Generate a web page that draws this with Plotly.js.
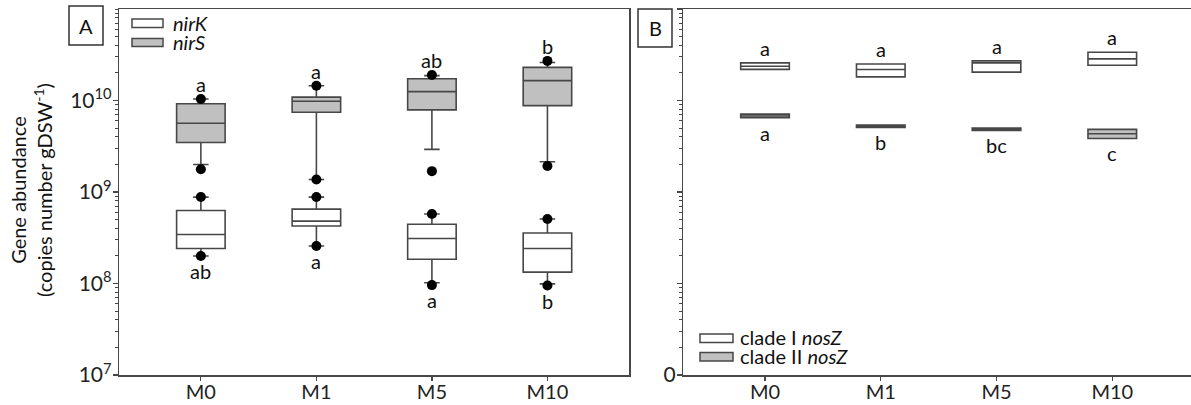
<!DOCTYPE html>
<html>
<head>
<meta charset="utf-8">
<script src="https://cdn.plot.ly/plotly-3.0.1.min.js"></script>
<style>
html,body{margin:0;padding:0;overflow:hidden;background:#fff;}
#chart{width:1195px;height:405px;}
</style>
</head>
<body>
<div id="chart"></div>
<script>
// ---------- DATA ----------
const categories = ['M0', 'M1', 'M5', 'M10'];

// Panel A: nirK
const nirK_q1     = [2.41e8, 4.25e8, 1.84e8, 1.33e8];
const nirK_median = [3.43e8, 4.80e8, 3.10e8, 2.41e8];
const nirK_q3     = [6.27e8, 6.50e8, 4.44e8, 3.56e8];
const nirK_lower  = [2.00e8, 2.57e8, 1.02e8, 9.9e7];
const nirK_upper  = [8.80e8, 8.80e8, 5.75e8, 5.07e8];
const nirK_dotLow  = [2.00e8, 2.57e8, 9.6e7, 9.5e7];
const nirK_dotHigh = [8.80e8, 8.80e8, 5.75e8, 5.07e8];

// Panel A: nirS
const nirS_q1     = [3.48e9, 7.45e9, 7.90e9, 8.80e9];
const nirS_median = [5.65e9, 9.80e9, 1.25e10, 1.65e10];
const nirS_q3     = [9.20e9, 1.09e10, 1.73e10, 2.30e10];
const nirS_lower  = [2.00e9, 1.37e9, 2.92e9, 2.14e9];
const nirS_upper  = [1.04e10, 1.45e10, 1.87e10, 2.60e10];
const nirS_dotLow  = [1.77e9, 1.37e9, 1.69e9, 1.92e9];
const nirS_dotHigh = [1.04e10, 1.45e10, 1.90e10, 2.71e10];

// Panel B: clade I nosZ
const cladeI_q1     = [2.19e10, 1.81e10, 2.04e10, 2.43e10];
const cladeI_median = [2.37e10, 2.18e10, 2.58e10, 2.85e10];
const cladeI_q3     = [2.58e10, 2.51e10, 2.71e10, 3.37e10];

// Panel B: clade II nosZ
const cladeII_q1     = [6.48e9, 5.08e9, 4.71e9, 3.85e9];
const cladeII_median = [6.78e9, 5.25e9, 4.87e9, 4.33e9];
const cladeII_q3     = [7.10e9, 5.38e9, 4.99e9, 4.83e9];

// Significance letters
const letters_nirS    = ['a', 'a', 'ab', 'b'];
const letters_nirK    = ['ab', 'a', 'a', 'b'];
const letters_cladeI  = ['a', 'a', 'a', 'a'];
const letters_cladeII = ['a', 'b', 'bc', 'c'];

// Tick labels
const tickValsA = [1e7, 1e8, 1e9, 1e10];
const tickTextA = ['10<sup>7</sup>', '10<sup>8</sup>', '10<sup>9</sup>', '10<sup>10</sup>'];
const tickValsB = [1e7, 1e8, 1e9, 1e10, 1e11];
const tickTextB = ['0', '', '', '', ''];

// ---------- STYLE ----------
const W = 1195, H = 405;
const FONT = 'Lato, "Open Sans", sans-serif';
const LINE = '#474747';
const GRAY = '#c0c0c0';
const px = v => v / W;
const py = v => (H - v) / H;

function boxTrace(q1, med, q3, lo, hi, fill, xa, ya, lw) {
  return {
    type: 'box', x: categories, q1: q1, median: med, q3: q3,
    lowerfence: lo, upperfence: hi,
    boxpoints: false, fillcolor: fill,
    line: {color: LINE, width: lw || 1.6},
    whiskerwidth: 0.32, xaxis: xa, yaxis: ya, showlegend: false,
    hoverinfo: 'skip'
  };
}
function dotTrace(vals) {
  return {
    type: 'scatter', mode: 'markers', x: categories, y: vals,
    marker: {color: '#000', size: 10}, xaxis: 'x', yaxis: 'y',
    showlegend: false, hoverinfo: 'skip'
  };
}

const traces = [
  boxTrace(nirS_q1, nirS_median, nirS_q3, nirS_lower, nirS_upper, GRAY, 'x', 'y'),
  boxTrace(nirK_q1, nirK_median, nirK_q3, nirK_lower, nirK_upper, '#ffffff', 'x', 'y'),
  dotTrace(nirS_dotHigh), dotTrace(nirS_dotLow),
  dotTrace(nirK_dotHigh), dotTrace(nirK_dotLow),
  boxTrace(cladeI_q1, cladeI_median, cladeI_q3, cladeI_q1, cladeI_q3, '#ffffff', 'x2', 'y2'),
  boxTrace(cladeII_q1, cladeII_median, cladeII_q3, cladeII_q1, cladeII_q3, GRAY, 'x2', 'y2')
];

const annotations = [];
function letterSet(letters, vals, xref, yref, shift) {
  letters.forEach((t, i) => {
    annotations.push({
      text: t, x: categories[i], y: Math.log10(vals[i]), xref: xref, yref: yref,
      yshift: shift, showarrow: false, xanchor: 'center', yanchor: 'middle',
      font: {family: FONT, size: 20, color: '#111'}
    });
  });
}
letterSet(letters_nirS, nirS_dotHigh, 'x', 'y', 15);
letterSet(letters_nirK, nirK_dotLow, 'x', 'y', -15);
letterSet(letters_cladeI, cladeI_q3, 'x2', 'y2', 15);
letterSet(letters_cladeII, cladeII_q1, 'x2', 'y2', -15);

function paperText(text, x, y, size, xanchor, angle) {
  annotations.push({text: text, x: px(x), y: py(y), xref: 'paper', yref: 'paper',
    xanchor: xanchor || 'center', yanchor: 'middle', textangle: angle || 0,
    showarrow: false, font: {family: FONT, size: size, color: '#111'}});
}
// panel letters
paperText('A', 86, 26, 20);
paperText('B', 655, 28, 20);
// y title
paperText('Gene abundance<br>(copies number gDSW<sup>-1</sup>)', 31, 190, 20, 'center', -90);
// legend texts
paperText('<i>nirK</i>', 171, 23, 20, 'left');
paperText('<i>nirS</i>', 171, 42, 20, 'left');
paperText('clade I <i>nosZ</i>', 738, 337, 20, 'left');
paperText('clade II <i>nosZ</i>', 738, 356, 20, 'left');

const shapes = [
  {type: 'rect', xref: 'paper', yref: 'paper', x0: px(69), x1: px(103), y0: py(6), y1: py(45),
   line: {color: '#333', width: 1.5}, fillcolor: 'rgba(0,0,0,0)'},
  {type: 'rect', xref: 'paper', yref: 'paper', x0: px(638), x1: px(672), y0: py(9), y1: py(47),
   line: {color: '#333', width: 1.5}, fillcolor: 'rgba(0,0,0,0)'},
  {type: 'rect', xref: 'paper', yref: 'paper', x0: px(132), x1: px(163), y0: py(19), y1: py(27.5),
   line: {color: LINE, width: 1.5}, fillcolor: '#ffffff'},
  {type: 'rect', xref: 'paper', yref: 'paper', x0: px(132), x1: px(163), y0: py(38.5), y1: py(46.5),
   line: {color: LINE, width: 1.5}, fillcolor: GRAY},
  {type: 'rect', xref: 'paper', yref: 'paper', x0: px(700), x1: px(733), y0: py(334), y1: py(342.5),
   line: {color: LINE, width: 1.5}, fillcolor: '#ffffff'},
  {type: 'rect', xref: 'paper', yref: 'paper', x0: px(700), x1: px(733), y0: py(352.5), y1: py(361),
   line: {color: LINE, width: 1.5}, fillcolor: GRAY}
];

const yDom = [py(375), py(9)];
const xCommon = {
  type: 'category', range: [-0.706, 3.706], showline: true, linecolor: LINE, linewidth: 1.5,
  ticks: 'outside', ticklen: 4, tickcolor: LINE, tickwidth: 1.2, showgrid: false, zeroline: false,
  ticklabelstandoff: -6,
  tickfont: {family: FONT, size: 20, color: '#222'}, fixedrange: true
};
const yCommon = {
  type: 'log', range: [7, 11], domain: yDom, showline: true, linecolor: LINE, linewidth: 1.5,
  ticks: 'outside', ticklen: 5, tickcolor: LINE, tickwidth: 1.2, showgrid: false, zeroline: false,
  ticklabelstandoff: -3,
  tickmode: 'array', tickfont: {family: FONT, size: 21, color: '#222'},
  minor: {ticks: 'outside', ticklen: 3, tickcolor: LINE, tickwidth: 1, dtick: 'D1', showgrid: false},
  fixedrange: true
};

const layout = {
  width: W, height: H,
  margin: {l: 0, r: 0, t: 0, b: 0},
  paper_bgcolor: '#fff', plot_bgcolor: '#fff',
  boxmode: 'overlay', boxgap: 0.4,
  showlegend: false,
  xaxis: Object.assign({}, xCommon, {domain: [px(119.3), px(629)], anchor: 'y', mirror: true}),
  yaxis: Object.assign({}, yCommon, {anchor: 'x', mirror: true, tickvals: tickValsA, ticktext: tickTextA}),
  xaxis2: Object.assign({}, xCommon, {domain: [px(683.3), px(1194)], anchor: 'y2', mirror: true}),
  yaxis2: Object.assign({}, yCommon, {anchor: 'x2', mirror: false, tickvals: tickValsB, ticktext: tickTextB}),
  annotations: annotations,
  shapes: shapes
};

Plotly.newPlot('chart', traces, layout, {displayModeBar: false, staticPlot: true});
</script>
</body>
</html>
